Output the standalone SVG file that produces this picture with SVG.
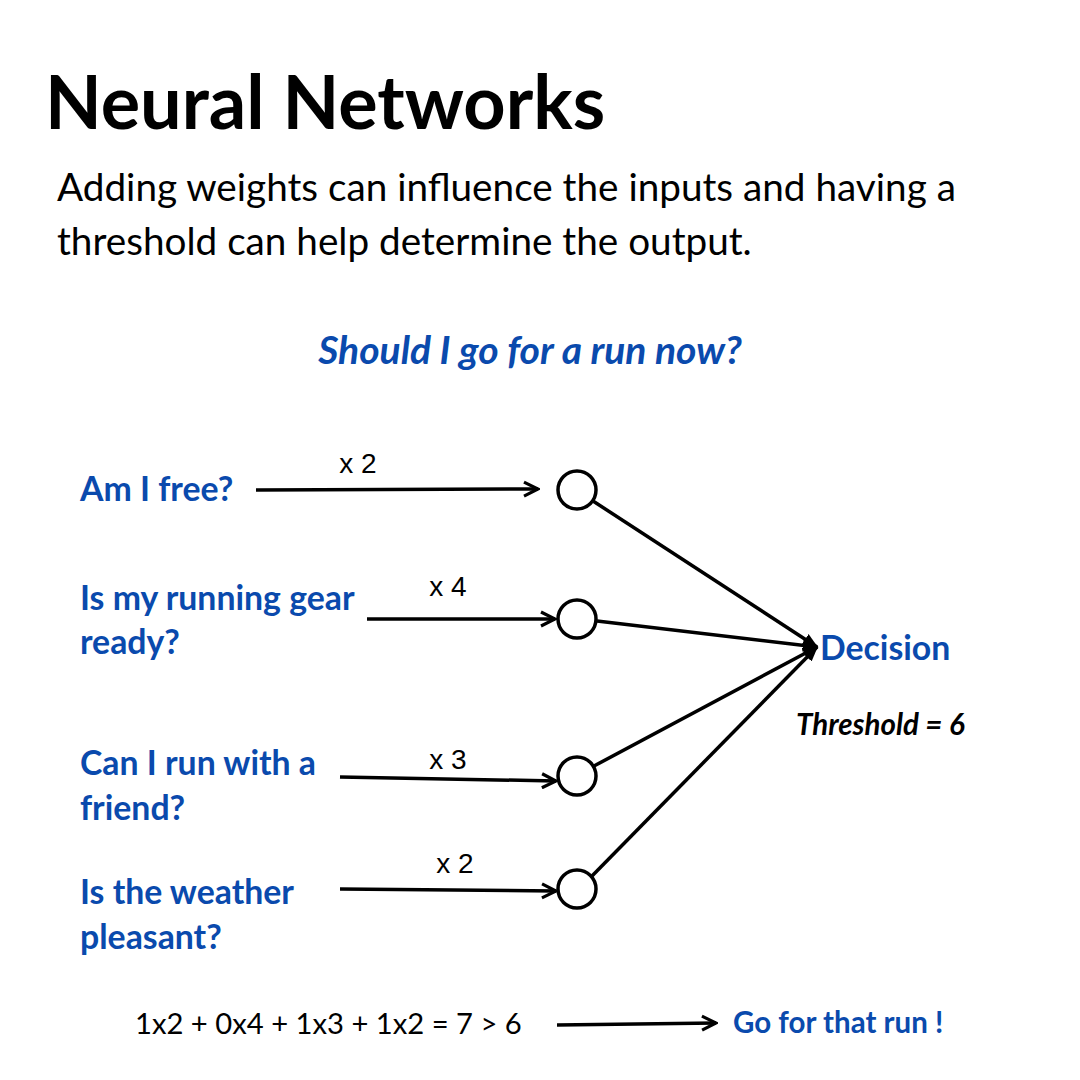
<svg xmlns="http://www.w3.org/2000/svg" width="1080" height="1080" viewBox="0 0 1080 1080">
<defs>
<style>
.title{font-family:Lato,"Noto Sans",sans-serif;font-weight:700;font-size:73.8px;fill:#000}
.sub{font-family:Lato,"Noto Sans",sans-serif;font-size:38.7px;fill:#000}
.q{font-family:Lato,"Noto Sans",sans-serif;font-weight:700;font-style:italic;font-size:39px;fill:#0a4aad}
.lbl{font-family:Lato,"Noto Sans",sans-serif;font-weight:700;font-size:33.8px;fill:#0a4aad}
.w{font-family:"Liberation Sans",Arial,sans-serif;font-size:28px;fill:#000}
.th{font-family:Lato,"Noto Sans",sans-serif;font-weight:700;font-style:italic;font-size:29.5px;fill:#000}
.eq{font-family:Lato,"Noto Sans",sans-serif;font-size:29.2px;fill:#000}
.res{font-family:Lato,"Noto Sans",sans-serif;font-weight:700;font-size:29.5px;fill:#0a4aad}
.node{fill:#fff;stroke:#000;stroke-width:3.5}
.edge{stroke:#000;stroke-width:3.5;fill:none}
</style>
<marker id="ah" viewBox="0 0 10 10" refX="9" refY="5" markerWidth="5" markerHeight="5" orient="auto" markerUnits="strokeWidth">
<path d="M1,1 L9,5 L1,9" fill="none" stroke="#000" stroke-width="1.8" stroke-linejoin="miter"/>
</marker>
<marker id="ahf" viewBox="0 0 10 10" refX="9" refY="5" markerWidth="4.5" markerHeight="4.5" orient="auto" markerUnits="strokeWidth">
<path d="M0,1 L10,5 L0,9 z" fill="#000"/>
</marker>
</defs>
<rect width="1080" height="1080" fill="#fff"/>
<text class="title" x="45" y="129">Neural Networks</text>
<text class="sub" x="57" y="201">Adding weights can influence the inputs and having a</text>
<text class="sub" x="57" y="255">threshold can help determine the output.</text>
<text class="q" x="530" y="364" text-anchor="middle">Should I go for a run now?</text>

<g id="connectors">
<line class="edge" x1="256" y1="490" x2="538" y2="489" marker-end="url(#ah)"/>
<line class="edge" x1="367" y1="619" x2="555" y2="619" marker-end="url(#ah)"/>
<line class="edge" x1="340" y1="777" x2="556" y2="781" marker-end="url(#ah)"/>
<line class="edge" x1="340" y1="889" x2="556" y2="891" marker-end="url(#ah)"/>
<line class="edge" x1="593" y1="501" x2="817" y2="647" marker-end="url(#ahf)"/>
<line class="edge" x1="597" y1="621" x2="817" y2="647" marker-end="url(#ahf)"/>
<line class="edge" x1="594" y1="766" x2="817" y2="647" marker-end="url(#ahf)"/>
<line class="edge" x1="592" y1="876" x2="817" y2="647" marker-end="url(#ahf)"/>
<line class="edge" x1="557" y1="1025" x2="716" y2="1023" marker-end="url(#ah)"/>
<text class="w" x="358" y="473" text-anchor="middle">x 2</text>
<text class="w" x="448" y="596" text-anchor="middle">x 4</text>
<text class="w" x="448" y="769" text-anchor="middle">x 3</text>
<text class="w" x="455" y="873" text-anchor="middle">x 2</text>
</g>

<g id="in1"><text class="lbl" x="80" y="501">Am I free?</text></g>
<g id="in2"><text class="lbl" x="80" y="610">Is my running gear</text><text class="lbl" x="80" y="654">ready?</text></g>
<g id="in3"><text class="lbl" x="80" y="775">Can I run with a</text><text class="lbl" x="80" y="820">friend?</text></g>
<g id="in4"><text class="lbl" x="80" y="904">Is the weather</text><text class="lbl" x="80" y="949">pleasant?</text></g>

<g id="n1"><circle class="node" cx="577" cy="490" r="19"/></g>
<g id="n2"><circle class="node" cx="577" cy="619" r="19"/></g>
<g id="n3"><circle class="node" cx="577" cy="776" r="19"/></g>
<g id="n4"><circle class="node" cx="577" cy="889" r="19"/></g>

<g id="decision"><text class="lbl" x="820" y="660">Decision</text></g>
<text class="th" x="796" y="735">Threshold = 6</text>
<text class="eq" x="135" y="1034">1x2 + 0x4 + 1x3 + 1x2 = 7 &gt; 6</text>
<g id="result"><text class="res" x="733" y="1033">Go for that run !</text></g>
</svg>
